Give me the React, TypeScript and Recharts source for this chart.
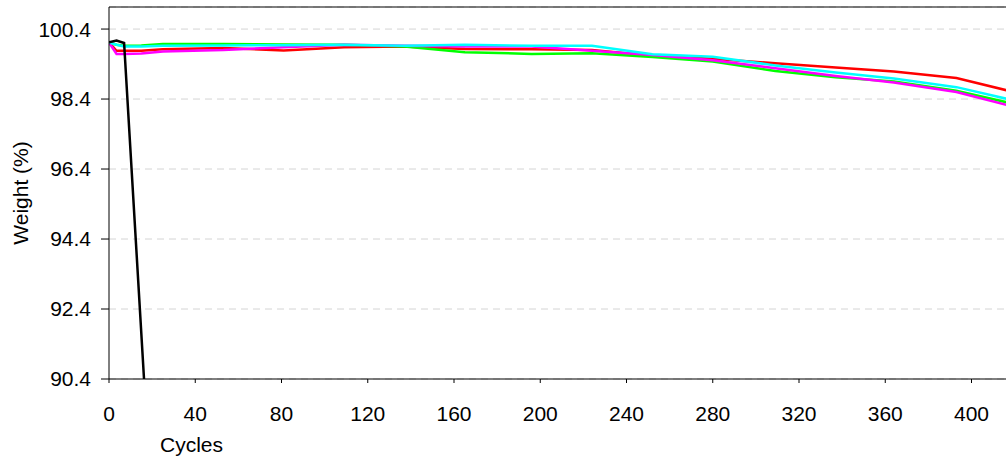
import React from "react";
import { LineChart, Line, XAxis, YAxis, CartesianGrid, ReferenceLine, Label } from "recharts";

// cycle numbers where the samples were taken
const cycles = [0, 3.5, 7, 15, 25, 53, 81, 109, 137, 165, 196, 224, 252, 280, 309, 337, 364, 393, 421];

const red = [100.02, 99.78, 99.78, 99.78, 99.82, 99.86, 99.79, 99.88, 99.9, 99.83, 99.82, 99.8, 99.64, 99.55, 99.42, 99.3, 99.19, 99.0, 98.58];
const green = [100.02, 99.95, 99.92, 99.93, 99.97, 99.97, 99.96, 99.95, 99.9, 99.74, 99.69, 99.71, 99.6, 99.47, 99.2, 99.02, 98.9, 98.64, 98.24];
const magenta = [100.02, 99.69, 99.69, 99.7, 99.76, 99.8, 99.88, 99.95, 99.92, 99.9, 99.9, 99.78, 99.66, 99.51, 99.28, 99.06, 98.87, 98.6, 98.16];
const cyan = [100.02, 99.95, 99.9, 99.9, 99.92, 99.93, 99.94, 99.95, 99.92, 99.95, 99.92, 99.92, 99.68, 99.61, 99.36, 99.16, 98.99, 98.74, 98.34];

// the black sample failed early
const blackCycles = [0, 3.5, 7, 20];
const black = [100.02, 100.07, 100.0, 86.5];

const xTicks = [0, 40, 80, 120, 160, 200, 240, 280, 320, 360, 400];
const yTicks = [90.4, 92.4, 94.4, 96.4, 98.4, 100.4];
const Y_MIN = 90.4;
const Y_MAX = 101.03;

const toRows = (xs: number[], ys: number[]) => xs.map((c, i) => ({ cycle: c, w: ys[i] }));

const series = [
  { name: "red", color: "#ff0000", rows: toRows(cycles, red) },
  { name: "green", color: "#00ff00", rows: toRows(cycles, green) },
  { name: "magenta", color: "#ff00ff", rows: toRows(cycles, magenta) },
  { name: "cyan", color: "#00ffff", rows: toRows(cycles, cyan) },
  { name: "black", color: "#000000", rows: toRows(blackCycles, black) },
];

const FONT = 21;
const tickStyle = { fill: "#000", fontSize: FONT };

export default function App() {
  return (
    <div style={{ position: "absolute", left: 0, top: 0, fontFamily: "'Liberation Sans', Arial, sans-serif" }}>
      <LineChart width={1006} height={457} margin={{ top: 7, right: 0, left: 0, bottom: 48 }}>
        <CartesianGrid vertical={false} stroke="#d4d4d4" strokeDasharray="7 5" />
        <XAxis
          type="number"
          dataKey="cycle"
          domain={[0, 416]}
          ticks={xTicks}
          allowDataOverflow
          height={30}
          stroke="#000"
          tick={tickStyle}
          tickSize={4}
          tickMargin={23}
        >
          <Label value="Cycles" position="center" dx={-366} dy={51} fontSize={FONT} fill="#000" />
        </XAxis>
        <YAxis
          type="number"
          domain={[Y_MIN, Y_MAX]}
          ticks={yTicks}
          allowDataOverflow
          width={109}
          stroke="#000"
          tick={tickStyle}
          tickSize={8}
          tickMargin={10}
          tickFormatter={(v: number) => v.toFixed(1)}
        >
          <Label value="Weight (%)" angle={-90} position="center" dx={-34} fontSize={FONT} fill="#000" />
        </YAxis>
        <ReferenceLine y={Y_MAX} stroke="#000" strokeWidth={1} />
        {series.map((s) => (
          <Line
            key={s.name}
            data={s.rows}
            dataKey="w"
            type="linear"
            stroke={s.color}
            strokeWidth={2.5}
            dot={false}
            isAnimationActive={false}
          />
        ))}
      </LineChart>
    </div>
  );
}
